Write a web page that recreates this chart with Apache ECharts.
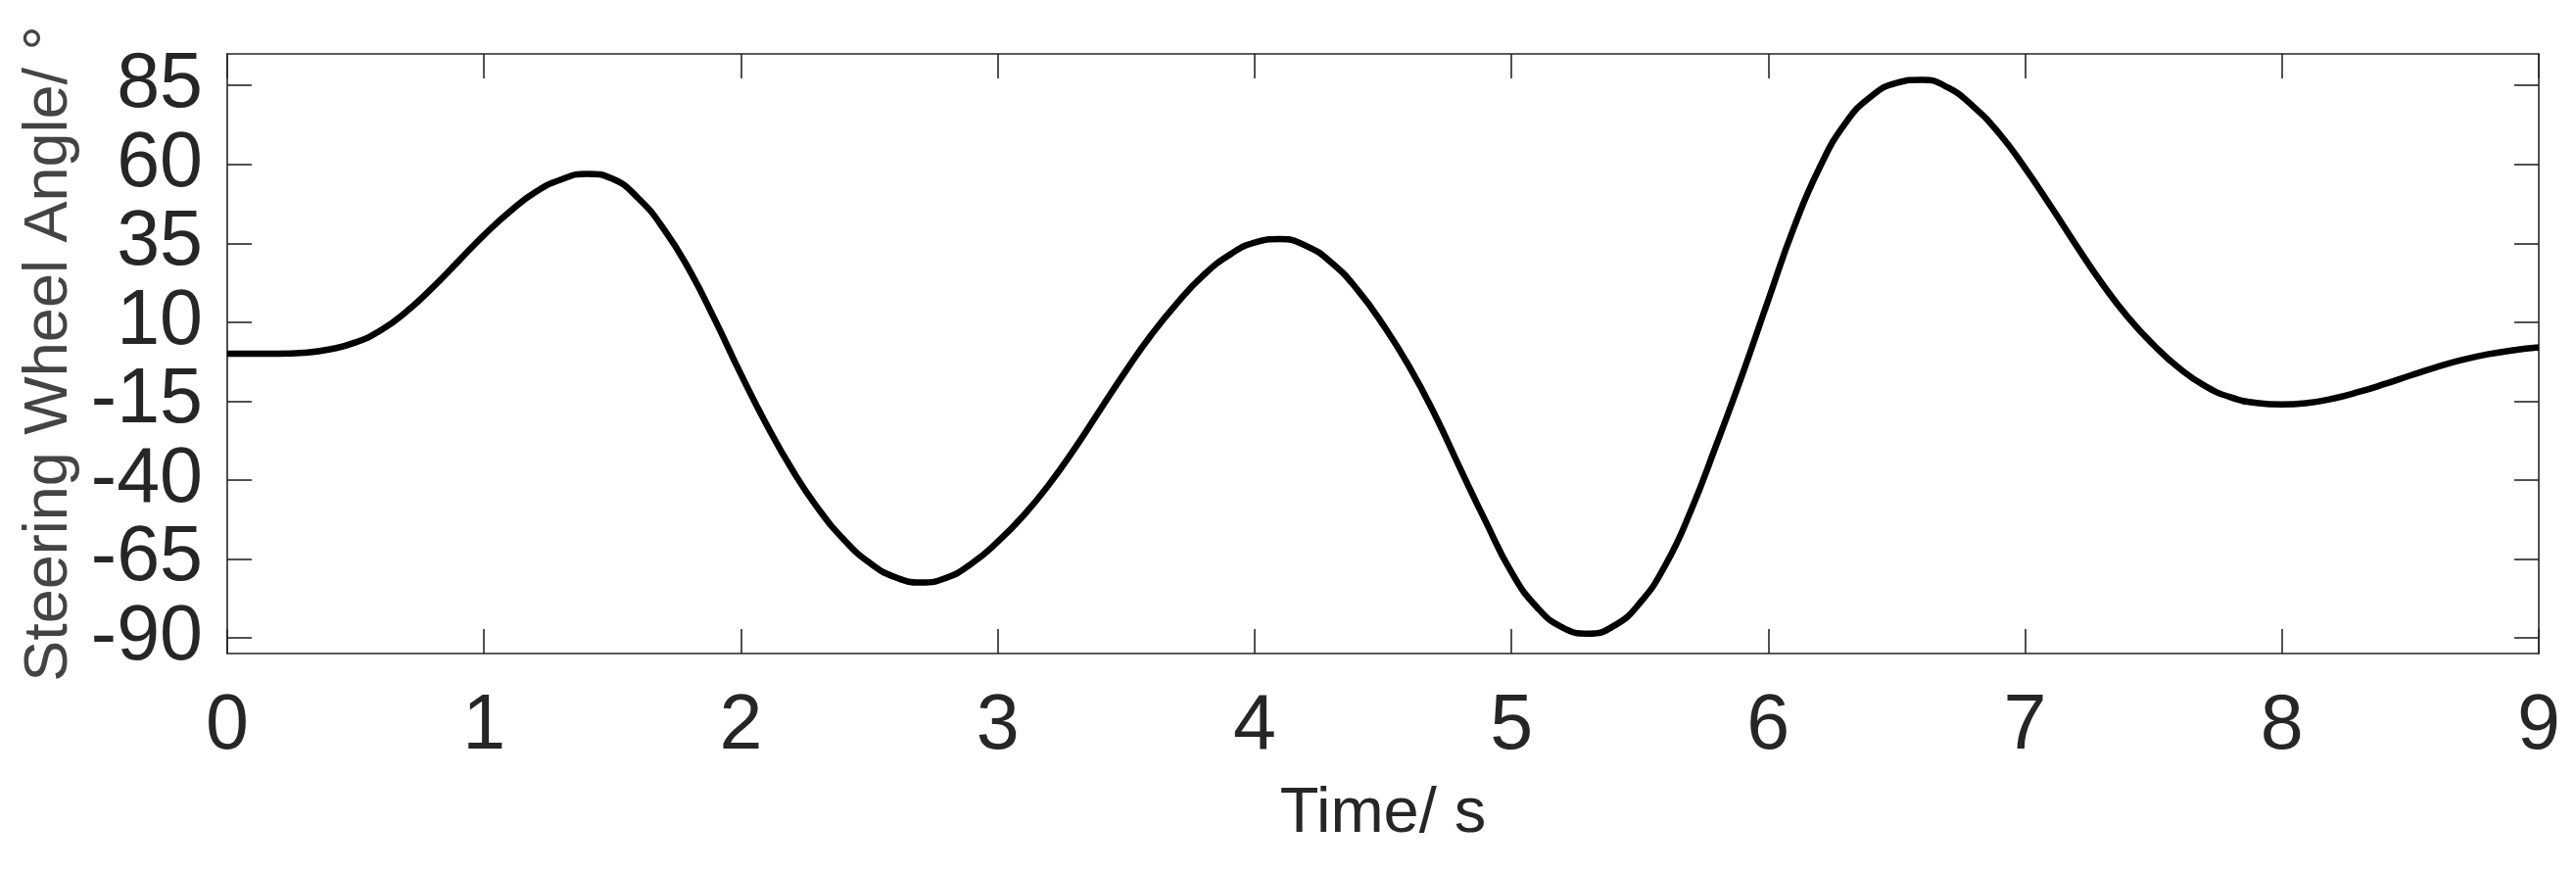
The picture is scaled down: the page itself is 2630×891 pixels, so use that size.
<!DOCTYPE html>
<html>
<head>
<meta charset="utf-8">
<script src="https://cdn.jsdelivr.net/npm/echarts@6/dist/echarts.min.js"></script>
<style>
html,body{margin:0;padding:0;background:#fff;}
#chart{width:2630px;height:891px;}
</style>
</head>
<body>
<div id="chart"></div>
<script>
// Time (s)
var timeValues = [0.0,0.1,0.2,0.3,0.4,0.5,0.6,0.7,0.8,0.9,
  1.0,1.1,1.2,1.3,1.4,1.5,1.6,1.7,1.8,1.9,
  2.0,2.1,2.2,2.3,2.4,2.5,2.6,2.7,2.8,2.9,
  3.0,3.1,3.2,3.3,3.4,3.5,3.6,3.7,3.8,3.9,
  4.0,4.1,4.2,4.3,4.4,4.5,4.6,4.7,4.8,4.9,
  5.0,5.1,5.2,5.3,5.4,5.5,5.6,5.7,5.8,5.9,
  6.0,6.1,6.2,6.3,6.4,6.5,6.6,6.7,6.8,6.9,
  7.0,7.1,7.2,7.3,7.4,7.5,7.6,7.7,7.8,7.9,
  8.0,8.1,8.2,8.3,8.4,8.5,8.6,8.7,8.8,8.9,9.0];
// Steering wheel angle (deg)
var angleValues = [0,0,0,0.3,1.4,3.6,7.5,13.5,21.0,29.3,
  37.6,45.0,51.2,55.2,57.0,55.4,49.3,39.5,26.4,10.5,
  -6.5,-22.5,-36.8,-49.0,-58.8,-66.2,-70.8,-72.5,-71.0,-66.4,
  -59.6,-51.3,-41.4,-30.0,-17.6,-5.3,6.2,16.2,24.8,31.2,
  35.2,36.3,34.2,28.8,20.3,9.2,-3.8,-19.0,-36.3,-53.2,
  -69.2,-80.4,-86.8,-88.7,-86.2,-79.0,-66.9,-49.5,-28.4,-6.4,
  17.0,40.0,59.0,73.0,81.5,85.8,86.8,84.3,78.2,69.7,
  58.8,46.7,34.2,22.2,11.6,2.8,-4.6,-10.2,-13.8,-15.6,
  -16.1,-15.6,-14.2,-12.1,-9.6,-6.9,-4.3,-2.0,-0.2,1.1,2.0];
var yTicks = [-90,-65,-40,-15,10,35,60,85];
var xTicks = [0,1,2,3,4,5,6,7,8,9];

var seriesData = timeValues.map(function(t,i){return [t, angleValues[i]];});

var FONT = 'Liberation Sans, Arial, Helvetica, sans-serif';
var AX = '#262626';
var lineStyle = {color: AX, width: 1.6};

var chart = echarts.init(document.getElementById('chart'), null, {renderer:'canvas'});
chart.setOption({
  animation: false,
  backgroundColor: '#ffffff',
  grid: {left: 232, top: 55, right: 38, bottom: 224, containLabel: false},
  xAxis: [{
    type: 'value', min: 0, max: 9, interval: 1, position: 'bottom',
    name: 'Time/ s', nameLocation: 'middle', nameGap: 132,
    nameTextStyle: {fontFamily: FONT, fontSize: 65, color: AX},
    axisLine: {show: true, onZero: false, lineStyle: lineStyle},
    axisTick: {show: true, inside: true, length: 25, lineStyle: lineStyle, customValues: xTicks},
    axisLabel: {show: true, margin: 36, fontFamily: FONT, fontSize: 79, color: AX, customValues: xTicks},
    splitLine: {show: false}
  },{
    type: 'value', min: 0, max: 9, interval: 1, position: 'top',
    axisLine: {show: true, onZero: false, lineStyle: lineStyle},
    axisTick: {show: true, inside: true, length: 25, lineStyle: lineStyle, customValues: xTicks},
    axisLabel: {show: false},
    splitLine: {show: false}
  }],
  yAxis: [{
    type: 'value', min: -95, max: 95, position: 'left',
    name: 'Steering Wheel Angle/ \u00b0', nameLocation: 'middle', nameGap: 150, nameRotate: 90,
    nameTextStyle: {fontFamily: FONT, fontSize: 63, color: '#444444'},
    axisLine: {show: true, onZero: false, lineStyle: lineStyle},
    axisTick: {show: true, inside: true, length: 25, lineStyle: lineStyle, customValues: yTicks},
    axisLabel: {show: true, margin: 25, fontFamily: FONT, fontSize: 79, color: AX, customValues: yTicks},
    splitLine: {show: false}
  },{
    type: 'value', min: -95, max: 95, position: 'right',
    axisLine: {show: true, onZero: false, lineStyle: lineStyle},
    axisTick: {show: true, inside: true, length: 25, lineStyle: lineStyle, customValues: yTicks},
    axisLabel: {show: false},
    splitLine: {show: false}
  }],
  series: [{
    type: 'line', xAxisIndex: 0, yAxisIndex: 0,
    data: seriesData, smooth: true, showSymbol: false,
    lineStyle: {color: '#000000', width: 6.5},
    clip: true
  }]
});
</script>
</body>
</html>
